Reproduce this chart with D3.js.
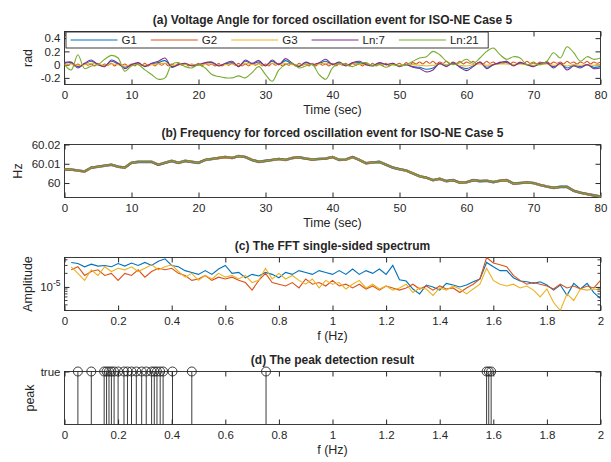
<!DOCTYPE html>
<html>
<head>
<meta charset="utf-8">
<script src="https://cdn.jsdelivr.net/npm/d3@7"></script>
<style>
  body { margin: 0; background: #fff; }
  text { font-family: "Liberation Sans", Arial, sans-serif; fill: #262626; }
</style>
</head>
<body>
<div id="fig"></div>
<script>
// ---- data: (a) voltage angle, rad, one sample per second (G2 every 0.5 s)
var tSec = d3.range(0, 81);
var tHalf = d3.range(0, 161).map(i => i / 2);

var angG1 = [0.02,0.03,-0.03,0.01,0.05, 0.00,-0.02,0.05,0.01,-0.04,
  0.00,0.02,-0.02,0.01,0.03, 0.06,-0.03,0.00,0.01,-0.01,
  0.00,0.02,0.03,-0.01,0.01, 0.03,-0.02,0.05,0.01,0.04,
  -0.01,0.05,0.00,0.06,0.01, -0.02,0.03,0.00,0.02,0.05,
  0.00,0.03,-0.01,0.02,0.03, 0.00,-0.01,0.02,0.00,0.01,
  -0.02,0.00,-0.03,-0.04,-0.07, -0.05,0.01,-0.02,0.02,-0.03,
  -0.06,-0.02,0.03,-0.04,0.00, 0.02,0.03,-0.01,0.02,0.00,
  -0.02,0.01,0.02,-0.03,0.01, -0.05,-0.01,-0.03,0.00,-0.04,
  -0.03];
var angG2 = [0.02,-0.01,0.02,-0.02,0.01,-0.02,0.02,-0.01,0.01,-0.02,
  0.02,-0.02,0.01,-0.01,0.02,-0.02,0.02,-0.01,0.01,-0.02,
  0.01,-0.02,0.02,-0.01,0.02,-0.02,0.01,-0.02,0.02,-0.01,
  0.02,-0.02,0.01,-0.02,0.02,-0.01,0.02,-0.02,0.01,-0.01,
  0.02,-0.02,0.02,-0.01,0.01,-0.02,0.02,-0.02,0.01,-0.01,
  0.02,-0.01,0.02,-0.02,0.01,-0.02,0.02,-0.01,0.02,-0.02,
  0.01,-0.02,0.02,-0.01,0.02,-0.02,0.01,-0.01,0.02,-0.02,
  0.02,-0.01,0.01,-0.02,0.02,-0.02,0.02,-0.01,0.01,-0.02,
  0.02,-0.02,0.01,-0.01,0.02,-0.02,0.02,-0.01,0.01,-0.02,
  0.02,-0.01,0.02,-0.02,0.01,-0.01,0.02,-0.02,0.02,0.00,
  0.02,-0.01,0.03,0.00,0.03,0.01,0.04,0.01,0.05,0.02,
  0.05,0.01,0.04,0.02,0.05,0.01,0.04,0.02,0.05,0.01,
  0.04,0.02,0.05,0.01,0.04,0.01,0.05,0.02,0.04,0.01,
  0.04,0.02,0.05,0.01,0.04,0.02,0.04,0.01,0.05,0.02,
  0.04,0.01,0.04,0.02,0.05,0.01,0.04,0.02,0.04,0.01,
  0.05,0.02,0.04,0.01,0.04,0.02,0.05,0.01,0.04,0.02,
  0.04];
var angG3 = [0.00,0.01,-0.01,0.00,0.02, 0.00,-0.01,0.01,0.00,-0.02,
  0.00,0.01,-0.01,0.00,0.01, 0.02,-0.01,0.00,0.01,0.00,
  -0.01,0.01,0.01,0.00,0.00, 0.01,-0.01,0.02,0.00,0.01,
  -0.01,0.02,0.00,0.02,0.00, -0.01,0.01,0.00,0.01,0.02,
  0.00,0.01,0.00,0.01,0.01, 0.00,-0.01,0.01,0.00,0.00,
  -0.01,0.00,0.00,-0.01,-0.02, -0.01,0.01,0.00,0.01,-0.01,
  -0.02,0.00,0.01,-0.01,0.00, 0.01,0.01,0.00,0.01,0.00,
  -0.01,0.00,0.01,-0.01,0.00, -0.02,0.00,-0.01,0.00,-0.01,
  -0.01];
var angLn7 = [0.03,0.04,-0.05,0.02,0.07, 0.00,-0.03,0.07,0.02,-0.06,
  0.00,0.03,-0.03,0.02,0.05, 0.10,-0.04,0.00,0.02,-0.02,
  0.00,0.03,0.04,-0.02,0.02, 0.05,-0.03,0.07,0.02,0.06,
  -0.02,0.07,0.00,0.09,0.02, -0.03,0.04,0.00,0.03,0.08,
  0.00,0.04,-0.02,0.03,0.05, 0.00,-0.02,0.03,0.00,0.02,
  -0.03,0.00,-0.04,-0.06,-0.11, -0.08,0.02,-0.03,0.03,-0.04,
  -0.09,-0.03,0.04,-0.06,0.00, 0.03,0.05,-0.02,0.03,0.00,
  -0.03,0.02,0.03,-0.05,0.02, -0.08,-0.02,-0.05,0.00,-0.06,
  -0.05];
var angLn21 = [0.00,-0.08,0.15,-0.06,-0.02, 0.00,0.08,0.14,0.10,-0.10,
  -0.02,0.00,-0.08,-0.15,-0.22, -0.20,0.00,0.03,-0.03,-0.05,
  0.00,-0.05,-0.15,-0.18,-0.20, -0.20,-0.17,-0.20,-0.12,-0.03,
  -0.15,-0.25,-0.08,0.00,0.02, -0.05,-0.02,0.00,-0.15,-0.22,
  -0.05,0.02,0.00,-0.03,0.02, 0.03,-0.02,0.00,-0.04,0.00,
  -0.02,0.00,0.05,0.10,0.12, 0.20,0.15,0.05,0.00,0.03,
  0.08,0.02,0.10,0.20,0.25, 0.15,0.08,0.12,0.10,0.00,
  0.02,0.00,0.05,0.18,0.10, 0.27,0.18,0.05,0.12,0.08,
  0.10];

// ---- (b) frequency, Hz (all five buses overlap at this scale)
var freqHz = [60.0071,60.0070,60.0065,60.0060,60.0080, 60.0085,60.0090,60.0095,60.0085,60.0080,
  60.0105,60.0110,60.0110,60.0110,60.0095, 60.0105,60.0115,60.0105,60.0115,60.0110,
  60.0105,60.0120,60.0125,60.0130,60.0135, 60.0130,60.0140,60.0135,60.0120,60.0110,
  60.0115,60.0120,60.0125,60.0120,60.0130, 60.0133,60.0127,60.0122,60.0125,60.0127,
  60.0135,60.0120,60.0122,60.0135,60.0120, 60.0103,60.0107,60.0110,60.0095,60.0080,
  60.0072,60.0065,60.0050,60.0035,60.0028, 60.0015,60.0022,60.0010,60.0015,60.0002,
  60.0004,60.0015,60.0010,60.0012,60.0005, 60.0012,60.0015,59.9997,60.0000,60.0003,
  60.0000,59.9990,59.9982,59.9975,59.9980, 59.9980,59.9960,59.9950,59.9943,59.9936,
  59.9930];

// ---- (c) single-sided spectrum, in units of 1e-5, f = 0.025 ... 2 Hz
var fHz = d3.range(1, 81).map(i => i * 0.025);
var ampG1 = [3.5,3.3,2.8,3.2,2.9, 3.0,2.8,3.3,2.9,3.4,
  3.0,3.5,3.0,3.7,4.2, 3.0,2.8,2.3,2.1,1.9,
  2.3,1.9,2.5,3.0,2.0, 2.1,1.6,1.9,1.75,2.1,
  1.9,1.6,2.1,1.9,2.3, 2.1,1.9,2.3,2.1,1.9,
  2.3,1.9,2.5,1.9,2.3, 2.0,2.5,1.9,3.0,1.45,
  1.35,0.9,0.7,1.1,1.0, 0.85,1.2,1.1,1.0,1.1,
  1.3,1.5,3.5,2.8,2.3, 2.3,1.6,1.35,1.3,1.2,
  1.3,1.1,0.85,1.1,0.65, 1.2,0.9,1.2,0.75,0.55];
var ampG2 = [2.4,2.8,1.8,2.2,2.4, 1.8,2.0,1.4,2.0,1.8,
  2.4,1.65,2.2,2.6,2.4, 2.6,2.0,1.8,1.4,1.5,
  1.8,1.4,1.65,1.5,1.65, 1.4,1.25,0.85,1.4,2.0,
  1.25,1.15,1.05,1.25,0.95, 1.5,1.15,1.25,1.05,1.4,
  1.05,1.15,0.95,1.15,0.9, 1.05,0.85,1.05,0.95,0.85,
  0.95,1.15,0.9,1.05,0.85, 1.05,0.9,0.95,0.75,0.95,
  1.15,1.5,4.5,3.4,3.1, 2.8,1.8,1.4,1.15,1.25,
  1.15,1.05,0.9,1.15,0.95, 1.05,0.9,1.05,0.95,1.4];
var ampG3 = [2.8,2.0,1.4,2.4,1.8, 2.8,2.2,2.6,2.4,2.8,
  2.2,2.6,3.1,2.4,2.8, 3.1,2.2,1.65,2.0,1.4,
  1.8,1.5,2.0,1.65,1.8, 1.5,1.8,1.25,1.4,2.6,
  1.5,2.0,1.5,1.8,1.4, 1.15,1.5,0.95,1.4,1.15,
  1.25,0.9,1.15,1.4,0.95, 1.15,0.9,1.05,0.85,0.95,
  1.15,0.75,0.95,0.9,0.65, 0.95,0.85,1.05,0.9,0.7,
  0.9,1.15,2.6,1.4,1.15, 1.05,1.15,0.95,1.05,0.85,
  0.6,0.9,0.45,0.3,0.7, 0.5,0.9,0.85,0.9,0.85];

// ---- (d) detected peaks, Hz
var peakHz = [0.05,0.1,0.148,0.157,0.166,0.175,0.185,0.2,0.222,0.235,0.25,0.268,
  0.288,0.305,0.325,0.335,0.345,0.357,0.368,0.403,0.475,0.752,1.575,1.583,1.592];

var names = ["G1", "G2", "G3", "Ln:7", "Ln:21"];
var colors = ["#0072BD", "#D95319", "#EDB120", "#7E2F8E", "#77AC30"];
var timeTicks = [0,10,20,30,40,50,60,70,80];
var fTicks = [0,0.2,0.4,0.6,0.8,1,1.2,1.4,1.6,1.8,2];

// ---- layout
var ink = "#262626";
var L = 64.5, R = 600.5, PH = 53;
var tops = [31.5, 144.5, 257.5, 371.5];

var svg = d3.select("#fig").append("svg")
  .attr("width", 611).attr("height", 462);

function axesFrame(k, x, y, xt, yt, yfmt, title, xlab, ylab, ylabX) {
  var top = tops[k];
  svg.append("clipPath").attr("id", "clip" + k)
    .append("rect").attr("x", L).attr("y", top).attr("width", R - L).attr("height", PH);

  var axes = [
    svg.append("g").attr("transform", "translate(0," + (top + PH) + ")")
      .call(d3.axisBottom(x).tickValues(xt).tickFormat(d => String(d)).tickSize(-5).tickPadding(6)),
    svg.append("g").attr("transform", "translate(0," + top + ")")
      .call(d3.axisTop(x).tickValues(xt).tickFormat("").tickSize(-5)),
    svg.append("g").attr("transform", "translate(" + L + ",0)")
      .call(d3.axisLeft(y).tickValues(yt).tickFormat(yfmt).tickSize(-5).tickPadding(4)),
    svg.append("g").attr("transform", "translate(" + R + ",0)")
      .call(d3.axisRight(y).tickValues(yt).tickFormat("").tickSize(-5))
  ];
  axes.forEach(g => {
    g.select(".domain").remove();
    g.attr("font-family", null).attr("font-size", 11.5);
    g.selectAll("line").attr("stroke", ink);
  });

  svg.append("rect").attr("class", "box")
    .attr("x", L).attr("y", top).attr("width", R - L).attr("height", PH)
    .attr("fill", "none").attr("stroke", ink).attr("stroke-width", 0.9);

  svg.append("text").attr("x", (L + R) / 2).attr("y", top - 8)
    .attr("text-anchor", "middle").attr("font-size", 12).attr("font-weight", "bold")
    .text(title);
  svg.append("text").attr("x", (L + R) / 2).attr("y", top + PH + 29)
    .attr("text-anchor", "middle").attr("font-size", 12.5)
    .text(xlab);
  svg.append("text")
    .attr("transform", "translate(" + ylabX + "," + (top + PH / 2) + ") rotate(-90)")
    .attr("text-anchor", "middle").attr("font-size", 12.5)
    .text(ylab);
  return svg.append("g").attr("clip-path", "url(#clip" + k + ")");
}

// ---- (a)
var xa = d3.scaleLinear().domain([0, 80]).range([L, R]);
var ya = d3.scaleLinear().domain([-0.3, 0.5]).range([tops[0] + PH, tops[0]]);
var pa = axesFrame(0, xa, ya, timeTicks, [-0.2, 0, 0.2, 0.4], d => String(d),
  "(a) Voltage Angle for forced oscillation event for ISO-NE Case 5", "Time (sec)", "rad", 32);
var angSeries = [[tSec, angG1], [tHalf, angG2], [tSec, angG3], [tSec, angLn7], [tSec, angLn21]];
angSeries.forEach((s, i) => {
  var line = d3.line().x((d, j) => xa(s[0][j])).y(d => ya(d)).curve(d3.curveCatmullRom);
  pa.append("path").datum(s[1]).attr("d", line)
    .attr("fill", "none").attr("stroke", colors[i]).attr("stroke-width", 1.1);
});

// legend
var leg = svg.append("g");
var legRect = leg.append("rect").attr("y", tops[0] + 0.5).attr("height", 16)
  .attr("fill", "#fff").attr("stroke", ink).attr("stroke-width", 0.9);
var lx = L + 6;
names.forEach((n, i) => {
  var cy = tops[0] + 8.5;
  leg.append("line").attr("x1", lx).attr("x2", lx + 47).attr("y1", cy).attr("y2", cy)
    .attr("stroke", colors[i]).attr("stroke-width", 1.2);
  var t = leg.append("text").attr("x", lx + 51).attr("y", cy + 4).attr("font-size", 11.5).text(n);
  lx += 51 + t.node().getComputedTextLength() + 14;
});
legRect.attr("x", L + 1.5).attr("width", lx - L - 6);

// ---- (b)
var xb = d3.scaleLinear().domain([0, 80]).range([L, R]);
var yb = d3.scaleLinear().domain([59.9925, 60.02]).range([tops[1] + PH, tops[1]]);
var pb = axesFrame(1, xb, yb, timeTicks, [60, 60.01, 60.02], d => String(d),
  "(b) Frequency for forced oscillation event for ISO-NE Case 5", "Time (sec)", "Hz", 22);
[2.6, 2.3, 2.0, 1.7, 1.2].forEach((w, i) => {
  var line = d3.line().x((d, j) => xb(tSec[j])).y(d => yb(d));
  pb.append("path").datum(freqHz).attr("d", line)
    .attr("fill", "none").attr("stroke", colors[i]).attr("stroke-width", w);
});

// ---- (c)
var xc = d3.scaleLinear().domain([0, 2]).range([L, R]);
var yc = d3.scaleLog().domain([3e-6, 4.5e-5]).range([tops[2] + PH, tops[2]]);
var pc = axesFrame(2, xc, yc, fTicks, [1e-5], () => "",
  "(c) The FFT single-sided spectrum", "f (Hz)", "Amplitude", 32);
var minor = [3e-6,4e-6,5e-6,6e-6,7e-6,8e-6,9e-6,2e-5,3e-5,4e-5];
[[L, 3], [R, -3]].forEach(s => {
  svg.append("g").selectAll("line").data(minor).join("line")
    .attr("x1", s[0]).attr("x2", s[0] + s[1])
    .attr("y1", d => yc(d)).attr("y2", d => yc(d))
    .attr("stroke", ink).attr("stroke-width", 0.9);
});
var lab = svg.append("text").attr("x", L - 4).attr("y", yc(1e-5) + 4)
  .attr("text-anchor", "end").attr("font-size", 11.5);
lab.append("tspan").text("10");
lab.append("tspan").attr("dy", -5).attr("font-size", 8.5).text("-5");
[ampG1, ampG2, ampG3].forEach((arr, i) => {
  var line = d3.line().x((d, j) => xc(fHz[j])).y(d => yc(d * 1e-5));
  pc.append("path").datum(arr).attr("d", line)
    .attr("fill", "none").attr("stroke", colors[i]).attr("stroke-width", 1.1);
});

// ---- (d)
var xd = d3.scaleLinear().domain([0, 2]).range([L, R]);
var yd = d3.scaleLinear().domain([0, 1]).range([tops[3] + PH, tops[3]]);
axesFrame(3, xd, yd, fTicks, [1], () => "true",
  "(d) The peak detection result", "f (Hz)", "peak", 34);
var pd = svg.append("g");
pd.selectAll("line").data(peakHz).join("line")
  .attr("x1", d => xd(d)).attr("x2", d => xd(d))
  .attr("y1", yd(0)).attr("y2", yd(1))
  .attr("stroke", ink).attr("stroke-width", 0.9);
pd.selectAll("circle").data(peakHz).join("circle")
  .attr("cx", d => xd(d)).attr("cy", yd(1)).attr("r", 4.5)
  .attr("fill", "none").attr("stroke", ink).attr("stroke-width", 0.9);
</script>
</body>
</html>
